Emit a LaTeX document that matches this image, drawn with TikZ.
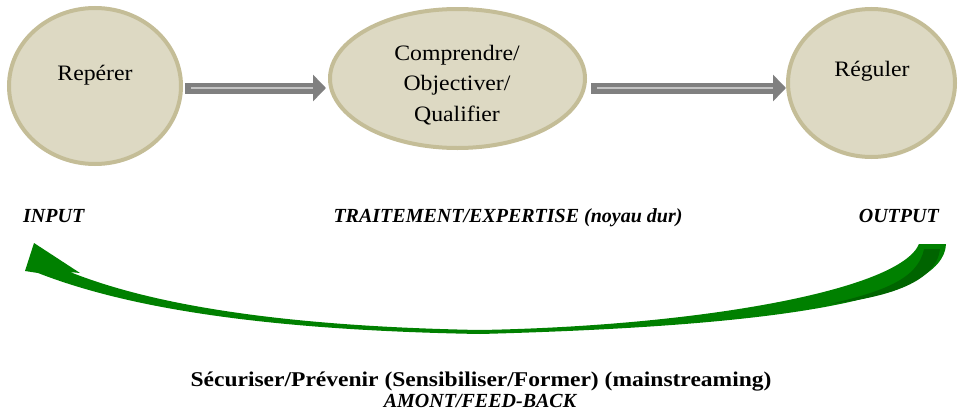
\documentclass[tikz,border=0pt]{standalone}
\usepackage{fontspec}
\setmainfont{Liberation Serif}
\newfontfamily\widefont[FakeStretch=1.08]{Liberation Serif}
\newfontfamily\widerfont[FakeStretch=1.12]{Liberation Serif}
\usetikzlibrary{shapes.geometric, positioning, arrows.meta, calc}
\usepackage{xcolor}

\definecolor{bubblefill}{RGB}{221,217,195}
\definecolor{bubbleline}{RGB}{196,189,151}
\definecolor{flowgray}{RGB}{128,128,128}
\definecolor{flowlight}{RGB}{196,196,196}
\definecolor{fbgreen}{RGB}{0,128,0}
\definecolor{fbdark}{RGB}{0,100,0}

\begin{document}
\begin{tikzpicture}[
    x=1pt, y=-1pt,
    bubble/.style={ellipse, draw=bubbleline, fill=bubblefill, line width=4pt, inner sep=0pt},
    bubbletext/.style={font=\widefont\fontsize{22}{30.5}\selectfont, align=center},
    flow/.style={-{Triangle[length=13pt, width=26pt]}, line width=11pt, flowgray},
    flowcore/.style={line width=2pt, flowlight},
    stage/.style={font=\fontsize{20}{24}\selectfont\bfseries\itshape},
    every node/.style={inner sep=0pt}
]
    \useasboundingbox (0,0) rectangle (958,415);

    % Repérer
    \node[bubble, minimum width=172pt, minimum height=156pt] (reperer) at (95,86) {};
    \node[bubbletext, anchor=base] (reperer-txt) at (95,80) {Repérer};

    % Comprendre
    \node[bubble, minimum width=255pt, minimum height=139pt] (comprendre) at (457.5,78.5) {};
    \node[bubbletext] (comprendre-txt) at (457,85) {Comprendre/\\Objectiver/\\Qualifier};

    % Réguler
    \node[bubble, minimum width=167pt, minimum height=148pt] (reguler) at (871.5,83) {};
    \node[bubbletext, anchor=base] (reguler-txt) at (872,76) {Réguler};

    % Flow arrows
    \coordinate (row) at (0,88);
    \draw[flow] ([xshift=2pt]reperer.east |- row) -- ([xshift=-2pt]comprendre.west |- row);
    \draw[flowcore] ([xshift=8pt]reperer.east |- row) -- ([xshift=-15pt]comprendre.west |- row);
    \draw[flow] ([xshift=4pt]comprendre.east |- row) -- (reguler.west |- row);
    \draw[flowcore] ([xshift=10pt]comprendre.east |- row) -- ([xshift=-13pt]reguler.west |- row);

    % Stages
    \node[stage, anchor=base west] (input) at (23,222) {INPUT};
    \node[stage, anchor=base] (traitement) at (508,222) {TRAITEMENT/EXPERTISE (noyau dur)};
    \node[stage, anchor=base east] (output) at (939,222) {OUTPUT};

    % Feed-back arrow
    \fill[fbgreen] (919,244) -- (946,244)
        .. controls (944,300) and (780,326) .. (480,334)
        .. controls (250,330) and (120,305) .. (38,273)
        -- (25,271) -- (34,243) -- (80,273) -- (70,272)
        .. controls (140,300) and (260,326) .. (480,330)
        .. controls (700,326) and (900,290) .. (919,244) -- cycle;
    \fill[fbdark] (924,249) -- (940,249)
        .. controls (936,285) and (880,298) .. (830,304)
        .. controls (880,292) and (918,280) .. (924,249) -- cycle;

    % Feed-back text
    \node[font=\widerfont\fontsize{21}{24}\selectfont\bfseries, anchor=base] (securiser) at (481,386)
        {Sécuriser/Prévenir (Sensibiliser/Former) (mainstreaming)};
    \node[font=\fontsize{20}{24}\selectfont\bfseries\itshape, anchor=base] (amont) at (480,407) {AMONT/FEED-BACK};

\end{tikzpicture}
\end{document}
